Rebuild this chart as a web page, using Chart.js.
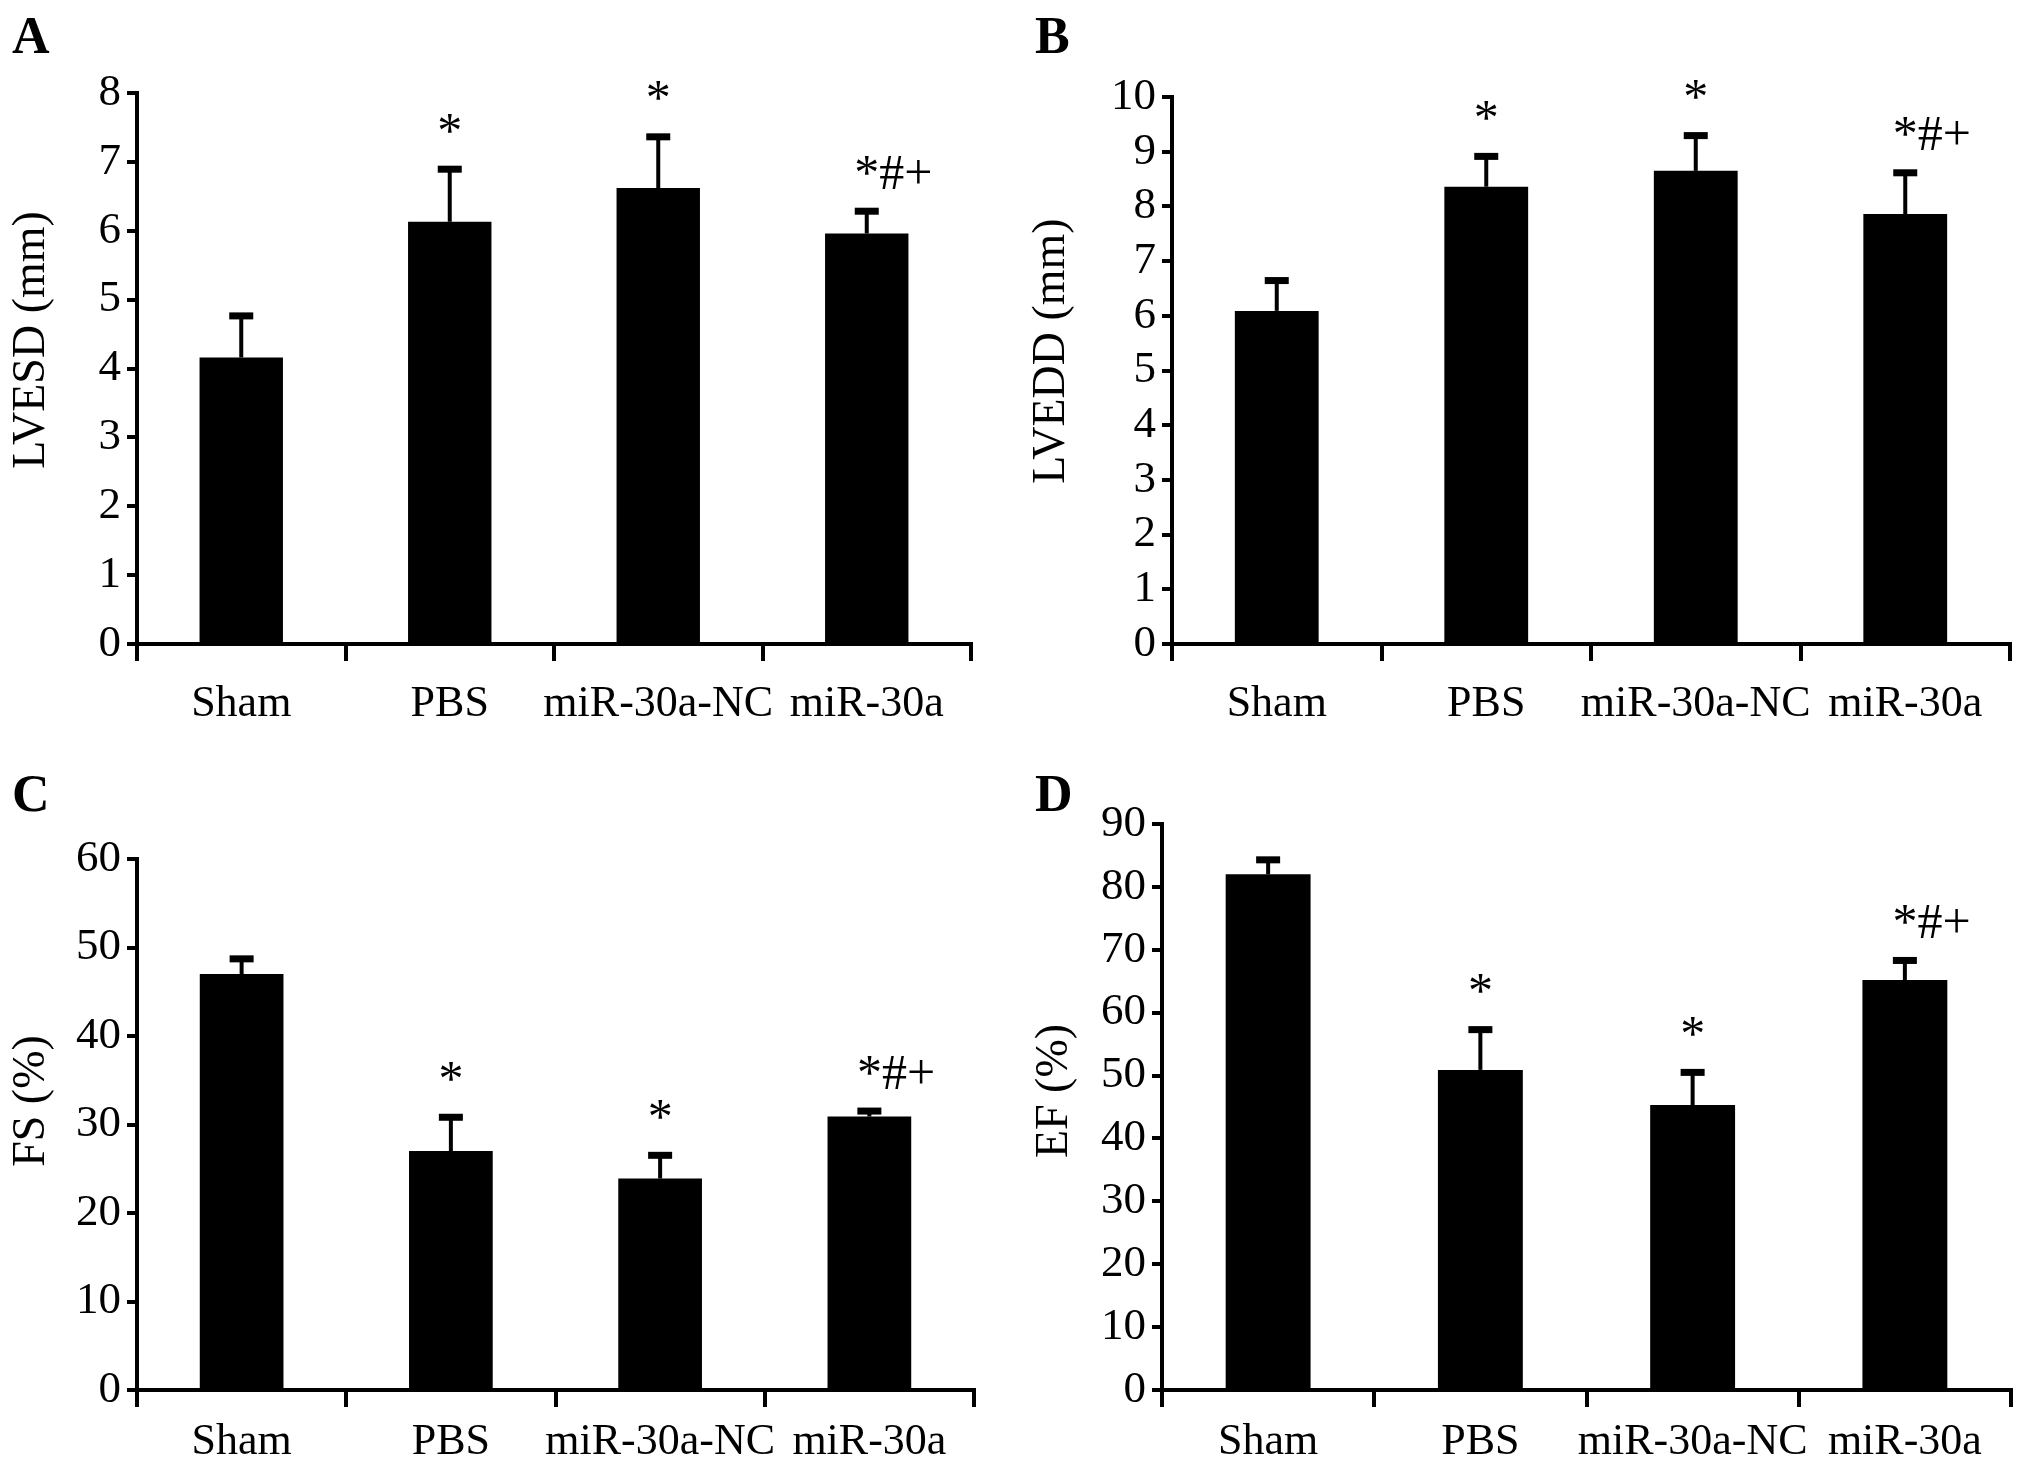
<!DOCTYPE html>
<html>
<head>
<meta charset="utf-8">
<script src="https://cdn.jsdelivr.net/npm/chart.js@4.4.1/dist/chart.umd.min.js"></script>
<style>
  html, body { margin:0; padding:0; background:#fff; }
  body { width:2031px; height:1469px; position:relative; overflow:hidden; }
  canvas { position:absolute; }
  .lbl { position:absolute; font:bold 52px "Liberation Serif", serif; line-height:52px; color:#000; }
</style>
</head>
<body>
<div class="lbl" style="left:12px;top:10px">A</div>
<div class="lbl" style="left:1035px;top:10px">B</div>
<div class="lbl" style="left:12px;top:768px">C</div>
<div class="lbl" style="left:1035px;top:768px">D</div>

<canvas id="cA" width="1015" height="735" style="left:0;top:0"></canvas>
<canvas id="cB" width="1016" height="735" style="left:1015px;top:0"></canvas>
<canvas id="cC" width="1015" height="734" style="left:0;top:735px"></canvas>
<canvas id="cD" width="1016" height="734" style="left:1015px;top:735px"></canvas>

<script>
// groups
const groups = ['Sham', 'PBS', 'miR-30a-NC', 'miR-30a'];
const marks = ['', '*', '*', '*#+'];

// A: LVESD (mm)
const lvesdMean = [4.16, 6.13, 6.62, 5.96];
const lvesdSd   = [0.64, 0.80, 0.78, 0.36];
// B: LVEDD (mm)
const lveddMean = [6.09, 8.36, 8.65, 7.86];
const lveddSd   = [0.60, 0.60, 0.69, 0.80];
// C: FS (%)
const fsMean = [47.0, 27.0, 23.9, 30.9];
const fsSd   = [2.0, 4.1, 2.9, 0.9];
// D: EF (%)
const efMean = [82.0, 50.9, 45.3, 65.2];
const efSd   = [2.7, 6.8, 5.6, 3.5];

const FONT = '"Liberation Serif", "Times New Roman", serif';

// upper error bars, significance marks and the rotated y title
const errPlugin = {
  id: 'errBars',
  afterDatasetsDraw(chart, args, opts){
    const ctx = chart.ctx, ys = chart.scales.y;
    const meta = chart.getDatasetMeta(0);
    const ds = chart.data.datasets[0];
    ctx.save();
    ctx.fillStyle = '#000'; ctx.strokeStyle = '#000';
    meta.data.forEach((bar, i) => {
      const x = bar.x;
      const yMean = ys.getPixelForValue(ds.data[i]);
      const yTop = ys.getPixelForValue(ds.data[i] + opts.sd[i]);
      ctx.lineWidth = 4;
      ctx.beginPath(); ctx.moveTo(x, yMean); ctx.lineTo(x, yTop); ctx.stroke();
      ctx.fillRect(x - 12, yTop - 1, 24, 7);
      const m = opts.marks[i];
      if (m) {
        ctx.font = '50px ' + FONT;
        ctx.textBaseline = 'alphabetic';
        ctx.textAlign = 'left';
        const w = ctx.measureText('*').width;
        ctx.fillText(m, x - w / 2, yTop - 20);
      }
    });
    // y axis title
    ctx.font = '46px ' + FONT;
    ctx.textAlign = 'center'; ctx.textBaseline = 'middle';
    ctx.translate(opts.tx, opts.ty);
    ctx.rotate(-Math.PI / 2);
    ctx.fillText(opts.title, 0, 0);
    ctx.restore();
  }
};

function panel(id, mean, sd, title, max, step, box){
  new Chart(document.getElementById(id), {
    type: 'bar',
    data: { labels: groups, datasets: [{ data: mean, backgroundColor: '#000', borderWidth: 0,
      barPercentage: 0.4, categoryPercentage: 1.0 }] },
    options: {
      responsive: false, animation: false,
      layout: { padding: { top: box.top, right: box.right, left: 0, bottom: 0 } },
      plugins: { legend: { display: false }, tooltip: { enabled: false },
        errBars: { sd: sd, marks: marks, title: title, tx: box.tx, ty: box.ty } },
      scales: {
        x: {
          grid: { offset: true, drawOnChartArea: false, tickLength: 17, lineWidth: 4, color: '#000' },
          border: { display: true, width: 4, color: '#000' },
          ticks: { color: '#000', font: { family: FONT, size: 44 }, padding: box.lp, maxRotation: 0, autoSkip: false },
          afterFit: s => { s.height = box.xh; }
        },
        y: {
          min: 0, max: max,
          grid: { drawOnChartArea: false, tickLength: 10, lineWidth: 4, color: '#000' },
          border: { display: true, width: 4, color: '#000' },
          ticks: { stepSize: step, color: '#000', font: { family: FONT, size: 45 }, padding: 6, autoSkip: false },
          afterFit: s => { s.width = box.yw; }
        }
      }
    },
    plugins: [errPlugin]
  });
}

panel('cA', lvesdMean, lvesdSd, 'LVESD (mm)', 8, 1,  { top: 93, right: 44, xh: 91, yw: 137, lp: 17, tx: 32, ty: 340 });
panel('cB', lveddMean, lveddSd, 'LVEDD (mm)', 10, 1, { top: 97, right: 21, xh: 91, yw: 157, lp: 17, tx: 37, ty: 351 });
panel('cC', fsMean, fsSd, 'FS (%)', 60, 10,          { top: 124, right: 41, xh: 79, yw: 137, lp: 9, tx: 32, ty: 366 });
panel('cD', efMean, efSd, 'EF (%)', 90, 10,          { top: 89, right: 20, xh: 79, yw: 147, lp: 9, tx: 40, ty: 356 });
</script>
</body>
</html>
